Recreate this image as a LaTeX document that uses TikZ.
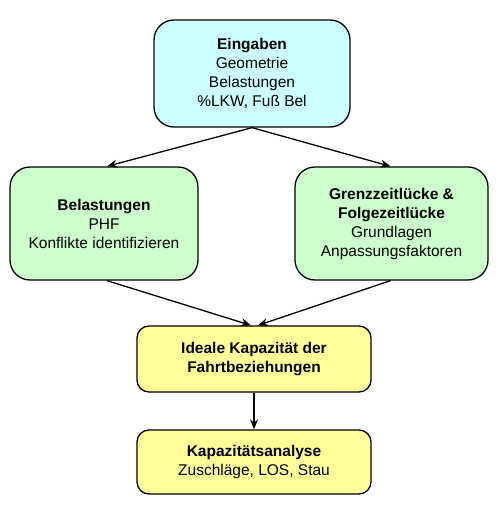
\documentclass[tikz,border=0pt]{standalone}
\usepackage{fontspec}
\setmainfont{Liberation Sans}
\usetikzlibrary{arrows.meta}
\definecolor{boxcyan}{HTML}{CCFFFF}
\definecolor{boxgreen}{HTML}{CCFFCC}
\definecolor{boxyellow}{HTML}{FFFF99}
\begin{document}
\begin{tikzpicture}[x=1pt,y=-1pt,
  box/.style={draw=black, line width=1.3pt, align=center, inner sep=0pt,
    font=\fontsize{15.5}{19}\selectfont},
  bigbox/.style={box, rounded corners=20pt},
  smallbox/.style={box, rounded corners=12pt, minimum width=234pt},
  conn/.style={line width=1.3pt, -{Stealth[length=10pt,width=8pt]}}]
\useasboundingbox (0,0) rectangle (500,511);
\node[bigbox, fill=boxcyan, minimum width=196pt, minimum height=107pt] (top) at (252,73.5)
  {\textbf{Eingaben}\\Geometrie\\Belastungen\\\%LKW, Fuß Bel};
\node[bigbox, fill=boxgreen, minimum width=188pt, minimum height=113pt] (left) at (104,223.5)
  {\textbf{Belastungen}\\PHF\\Konflikte identifizieren};
\node[bigbox, fill=boxgreen, minimum width=193pt, minimum height=113pt] (right) at (391.5,223.5)
  {\textbf{Grenzzeitlücke \&}\\\textbf{Folgezeitlücke}\\Grundlagen\\Anpassungsfaktoren};
\node[smallbox, fill=boxyellow, minimum height=66pt] (ideal) at (254,359)
  {\textbf{Ideale Kapazität der}\\\textbf{Fahrtbeziehungen}};
\node[smallbox, fill=boxyellow, minimum height=64pt] (kap) at (254,462)
  {\textbf{Kapazitätsanalyse}\\Zuschläge, LOS, Stau};
\draw[conn] (top.south) -- ([xshift=3pt]left.north);
\draw[conn] (top.south) -- ([xshift=-1pt]right.north);
\draw[conn] ([xshift=3pt]left.south) -- ([xshift=-3pt]ideal.north);
\draw[conn] ([xshift=-1pt]right.south) -- ([xshift=4pt]ideal.north);
\draw[conn] (ideal.south) -- (kap.north);
\end{tikzpicture}
\end{document}
